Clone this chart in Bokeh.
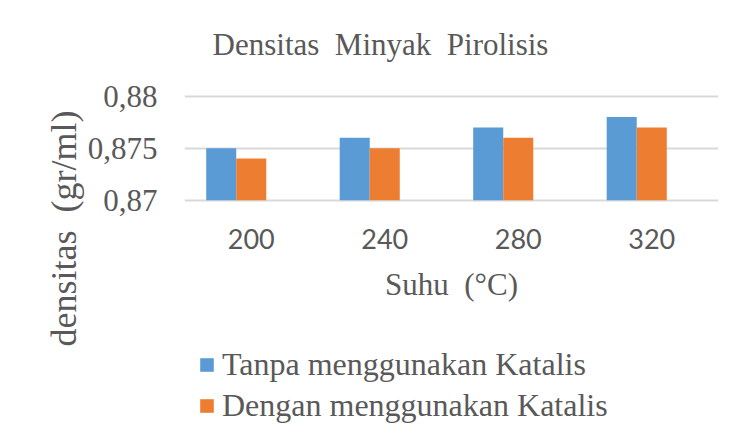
import math
from bokeh.plotting import figure
from bokeh.models import (ColumnDataSource, Range1d, FixedTicker, Legend, LegendItem, Label, Title)
from bokeh.transform import dodge
from bokeh.embed import file_html
from bokeh.resources import INLINE

# ---- data ----
suhu = ["200", "240", "280", "320"]
tanpa_katalis = [0.875, 0.876, 0.877, 0.878]
dengan_katalis = [0.874, 0.875, 0.876, 0.877]
y_ticks = [0.87, 0.875, 0.88]
y_tick_labels = ["0,87", "0,875", "0,88"]
title_text = "Densitas\u00a0 Minyak\u00a0 Pirolisis"
x_label = "Suhu\u00a0 (°C)"
y_label = "densitas\u00a0 (gr/ml)"
series_names = ["Tanpa menggunakan Katalis", "Dengan menggunakan Katalis"]

BLUE = "#5B9BD5"
ORANGE = "#ED7D31"
TXT = "#595959"
GRID = "#D9D9D9"
SERIF = "Liberation Serif"

src = ColumnDataSource(dict(suhu=suhu, tanpa=tanpa_katalis, dengan=dengan_katalis,
                            base=[y_ticks[0]] * len(suhu)))

# ---- layout (pixels) ----
W, H = 738, 446
FRAME_L, FRAME_R = 184, 718
Y_LO_PX, Y_HI_PX = 199.7, 95.7      # canvas rows of the lowest / highest tick
FRAME_T, FRAME_B = 12, H            # frame spans the page height so labels/legend are not clipped
k = (Y_LO_PX - Y_HI_PX) / (y_ticks[-1] - y_ticks[0])
y_lo = y_ticks[0] - (FRAME_B - Y_LO_PX) / k
y_hi = y_ticks[-1] + (Y_HI_PX - FRAME_T) / k

p = figure(x_range=suhu, y_range=Range1d(y_lo, y_hi),
           width=W, height=H, output_backend="svg", toolbar_location=None,
           min_border_left=FRAME_L, min_border_right=W - FRAME_R, min_border_top=FRAME_T,
           min_border_bottom=H - FRAME_B)
p.outline_line_color = None
p.background_fill_color = "white"
p.border_fill_color = "white"

r1 = p.vbar(x=dodge("suhu", -0.225, range=p.x_range), top="tanpa", bottom="base",
            width=0.225, source=src, fill_color=BLUE, line_color=None)
r2 = p.vbar(x=dodge("suhu", 0.0, range=p.x_range), top="dengan", bottom="base",
            width=0.225, source=src, fill_color=ORANGE, line_color=None)

# y axis
p.yaxis.ticker = FixedTicker(ticks=y_ticks)
p.yaxis.major_label_overrides = {t: l for t, l in zip(y_ticks, y_tick_labels)}
p.yaxis.axis_line_color = None
p.yaxis.major_tick_line_color = None
p.yaxis.minor_tick_line_color = None
p.yaxis.major_tick_in = 0
p.yaxis.major_tick_out = 0
p.yaxis.major_label_standoff = 27
p.yaxis.major_label_text_font = SERIF
p.yaxis.major_label_text_font_size = "31px"
p.yaxis.major_label_text_color = TXT

# x axis, pinned to the bottom of the value axis
p.xaxis.fixed_location = y_ticks[0]
p.xaxis.axis_line_color = None
p.xaxis.major_tick_line_color = None
p.xaxis.minor_tick_line_color = None
p.xaxis.major_tick_in = 0
p.xaxis.major_tick_out = 0
p.xaxis.major_label_standoff = 29
p.xaxis.major_label_text_font = "Lato"
p.xaxis.major_label_text_font_size = "27px"
p.xaxis.major_label_text_color = TXT
p.xaxis.axis_label = x_label
p.xaxis.axis_label_text_font = SERIF
p.xaxis.axis_label_text_font_style = "normal"
p.xaxis.axis_label_text_font_size = "31px"
p.xaxis.axis_label_text_color = TXT
p.xaxis.axis_label_standoff = 14

# grid
p.xgrid.grid_line_color = None
p.ygrid.grid_line_color = GRID
p.ygrid.grid_line_width = 2

# chart title (screen units from the frame's bottom-left)
p.add_layout(Label(x=380 - FRAME_L, y=FRAME_B - 44, x_units="screen", y_units="screen",
                   text=title_text, text_font=SERIF, text_font_size="31px", text_color=TXT,
                   text_align="center", text_baseline="alphabetic"))

# y-axis title as a side title on the left, shifted down like the reference
p.add_layout(Title(text=y_label, align="left", offset=FRAME_B - 346, standoff=2,
                   vertical_align="bottom", text_font=SERIF, text_font_size="36px",
                   text_font_style="normal", text_color=TXT), "left")

legend = Legend(items=[LegendItem(label=series_names[0], renderers=[r1]),
                       LegendItem(label=series_names[1], renderers=[r2])],
                location=(14, FRAME_B - 424), orientation="vertical",
                label_text_font=SERIF, label_text_font_size="32px", label_text_color=TXT,
                glyph_width=17, glyph_height=17, label_standoff=7, spacing=4,
                padding=0, margin=0, border_line_color=None, background_fill_alpha=0)
p.add_layout(legend, "center")

open("out.html", "w").write(file_html(p, INLINE))
